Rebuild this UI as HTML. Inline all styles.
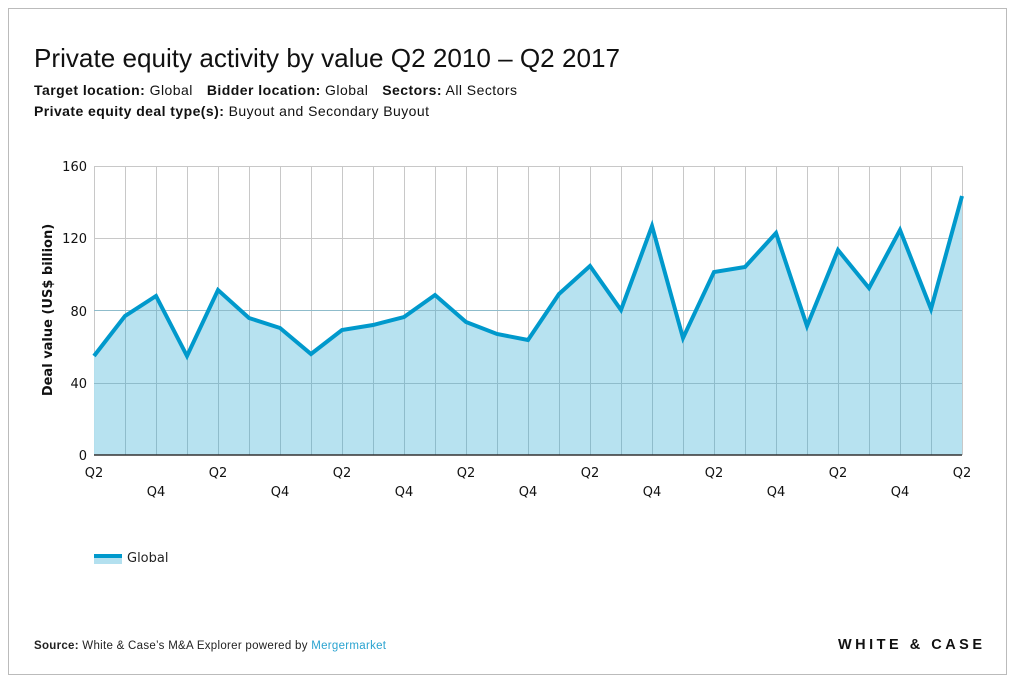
<!DOCTYPE html>
<html><head><meta charset="utf-8"><style>
body{margin:0;background:#fff;}
svg{display:block}
</style></head><body>
<svg width="1015" height="684" xmlns="http://www.w3.org/2000/svg">
<rect x="8.5" y="8.5" width="998" height="666" fill="#fff" stroke="#bbb"/>
<text x="34" y="67" font-family="Liberation Sans, sans-serif" font-size="26" fill="#111" textLength="586" lengthAdjust="spacingAndGlyphs">Private equity activity by value Q2 2010 – Q2 2017</text>
<text x="34" y="95" font-family="Liberation Sans, sans-serif" font-size="14" fill="#111" textLength="483" lengthAdjust="spacing"><tspan font-weight="bold">Target location:</tspan> Global<tspan dx="14" font-weight="bold">Bidder location:</tspan> Global<tspan dx="14" font-weight="bold">Sectors:</tspan> All Sectors</text>
<text x="34" y="116" font-family="Liberation Sans, sans-serif" font-size="14" fill="#111" textLength="395" lengthAdjust="spacing"><tspan font-weight="bold">Private equity deal type(s):</tspan> Buyout and Secondary Buyout</text>
<g stroke="#c8c8c8" stroke-width="1">
<line x1="94" x2="962" y1="166.5" y2="166.5"/><line x1="94" x2="962" y1="238.5" y2="238.5"/><line x1="94" x2="962" y1="310.5" y2="310.5"/><line x1="94" x2="962" y1="383.5" y2="383.5"/>
</g>
<g stroke="#c8c8c8">
<path d="M94.5 166V455M125.5 166V455M156.5 166V455M187.5 166V455M218.5 166V455M249.5 166V455M280.5 166V455M311.5 166V455M342.5 166V455M373.5 166V455M404.5 166V455M435.5 166V455M466.5 166V455M497.5 166V455M528.5 166V455M559.5 166V455M590.5 166V455M621.5 166V455M652.5 166V455M683.5 166V455M714.5 166V455M745.5 166V455M776.5 166V455M807.5 166V455M838.5 166V455M869.5 166V455M900.5 166V455M931.5 166V455M962.5 166V455"/>
</g>
<polygon fill="#b3e0ef" fill-opacity="0.95" points="94,455 94,356 125,316 156,296 187,356 218,290 249,318 280,328 311,354 342,330 373,325 404,317 435,295 466,322 497,334 528,340 559,294 590,266 621,310 652,226 683,338 714,272 745,267 776,233 807,326 838,250 869,288 900,230 931,309 962,196 962,455"/>
<g stroke="#8fbccb" stroke-width="1">
<path d="M125.5 316V455M156.5 296V455M187.5 356V455M218.5 290V455M249.5 318V455M280.5 328V455M311.5 354V455M342.5 330V455M373.5 325V455M404.5 317V455M435.5 295V455M466.5 322V455M497.5 334V455M528.5 340V455M559.5 294V455M590.5 266V455M621.5 310V455M652.5 226V455M683.5 338V455M714.5 272V455M745.5 267V455M776.5 233V455M807.5 326V455M838.5 250V455M869.5 288V455M900.5 230V455M931.5 309V455"/>
<path d="M94 383.5H962M94 310.5H962"/>
</g>
<polyline fill="none" stroke="#0099cc" stroke-width="4" stroke-linejoin="miter" points="94,356 125,316 156,296 187,356 218,290 249,318 280,328 311,354 342,330 373,325 404,317 435,295 466,322 497,334 528,340 559,294 590,266 621,310 652,226 683,338 714,272 745,267 776,233 807,326 838,250 869,288 900,230 931,309 962,196"/>
<line x1="94" x2="962" y1="455" y2="455" stroke="#333" stroke-width="1.5"/>
<g font-family="DejaVu Sans, sans-serif" font-size="13" fill="#111" text-anchor="end">
<text x="87" y="171">160</text><text x="87" y="243">120</text><text x="87" y="316">80</text><text x="87" y="388">40</text><text x="87" y="460">0</text>
</g>
<text transform="translate(52,310) rotate(-90)" font-family="DejaVu Sans, sans-serif" font-size="13" font-weight="bold" fill="#111" text-anchor="middle">Deal value (US$ billion)</text>
<g font-family="DejaVu Sans, sans-serif" font-size="13" fill="#111" text-anchor="middle">
<text x="94" y="477">Q2</text><text x="218" y="477">Q2</text><text x="342" y="477">Q2</text><text x="466" y="477">Q2</text><text x="590" y="477">Q2</text><text x="714" y="477">Q2</text><text x="838" y="477">Q2</text><text x="962" y="477">Q2</text>
<text x="156" y="496">Q4</text><text x="280" y="496">Q4</text><text x="404" y="496">Q4</text><text x="528" y="496">Q4</text><text x="652" y="496">Q4</text><text x="776" y="496">Q4</text><text x="900" y="496">Q4</text>
</g>
<rect x="94" y="557" width="28" height="7" fill="#b3e0ef"/>
<rect x="94" y="554" width="28" height="4" fill="#0099cc"/>
<text x="127" y="562" font-family="DejaVu Sans, sans-serif" font-size="13" fill="#222">Global</text>
<text x="34" y="649" font-family="Liberation Sans, sans-serif" font-size="11.5" fill="#222" textLength="352" lengthAdjust="spacing"><tspan font-weight="bold">Source:</tspan> White &amp; Case’s M&amp;A Explorer powered by <tspan fill="#2aa3d0">Mergermarket</tspan></text>
<text x="838" y="649" font-family="Liberation Sans, sans-serif" font-size="14.5" font-weight="bold" fill="#111" textLength="144" lengthAdjust="spacing">WHITE &amp; CASE</text>
</svg>
</body></html>
